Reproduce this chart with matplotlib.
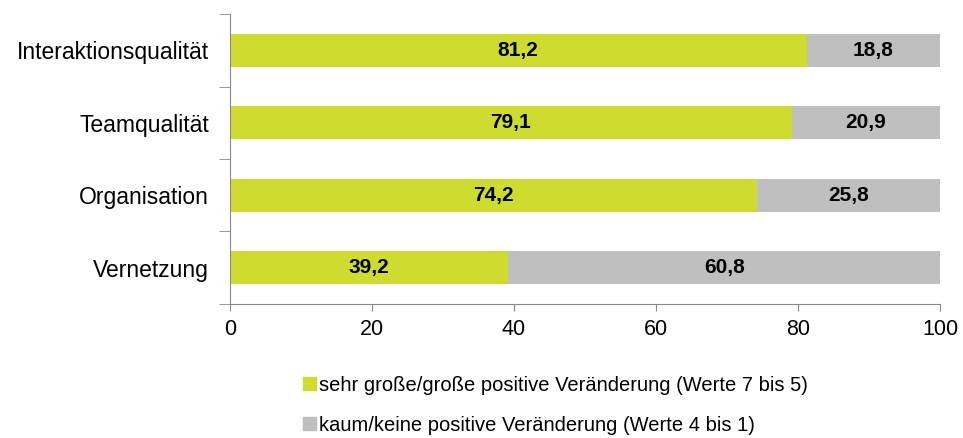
import matplotlib.pyplot as plt
from matplotlib.patches import Patch
from matplotlib import font_manager

# -------------------------------
# Data
# -------------------------------
categories = ["Interaktionsqualität", "Teamqualität", "Organisation", "Vernetzung"]
positive = [81.2, 79.1, 74.2, 39.2]
none_little = [18.8, 20.9, 25.8, 60.8]
legend_labels = [
    "sehr große/große positive Veränderung (Werte 7 bis 5)",
    "kaum/keine positive Veränderung (Werte 4 bis 1)",
]
x_ticks = [0, 20, 40, 60, 80, 100]

green = "#CEDC2F"
grey = "#BFBFBF"

names = {f.name for f in font_manager.fontManager.ttflist}
font = "Liberation Sans Narrow" if "Liberation Sans Narrow" in names else "Liberation Sans"
plt.rcParams["font.family"] = [font, "DejaVu Sans"]

fig = plt.figure(figsize=(9.63, 4.38), dpi=100)
ax = fig.add_axes([0.2388, 0.306, 0.7373, 0.662])

y = list(range(len(categories)))
ax.barh(y, positive, height=0.46, color=green)
ax.barh(y, none_little, left=positive, height=0.46, color=grey)

for i in y:
    ax.text(positive[i] / 2, i, f"{positive[i]:.1f}".replace(".", ","),
            ha="center", va="center", fontsize=15, fontweight="bold")
    ax.text(positive[i] + none_little[i] / 2, i, f"{none_little[i]:.1f}".replace(".", ","),
            ha="center", va="center", fontsize=15, fontweight="bold")

ax.set_xlim(0, 100)
ax.set_ylim(len(categories) - 0.5, -0.5)
ax.set_xticks(x_ticks)
ax.set_xticklabels([str(t) for t in x_ticks], fontsize=15.5)
ax.set_yticks(y)
ax.set_yticklabels(categories, fontsize=16.5)
ax.set_yticks([i - 0.5 for i in range(len(categories) + 1)], minor=True)
ax.tick_params(axis="y", which="major", length=0, pad=15)
ax.tick_params(axis="y", which="minor", length=8, color="#888888")
ax.tick_params(axis="x", length=5, color="#888888", pad=6)

for s in ["top", "right"]:
    ax.spines[s].set_visible(False)
for s in ["left", "bottom"]:
    ax.spines[s].set_color("#888888")

handles = [Patch(color=green), Patch(color=grey)]
fig.legend(handles, legend_labels, loc="lower left", bbox_to_anchor=(0.296, -0.034),
           frameon=False, fontsize=14.5, handlelength=0.65, handleheight=0.65,
           handletextpad=0.15, labelspacing=1.05)

fig.savefig("out.png", dpi=100)
